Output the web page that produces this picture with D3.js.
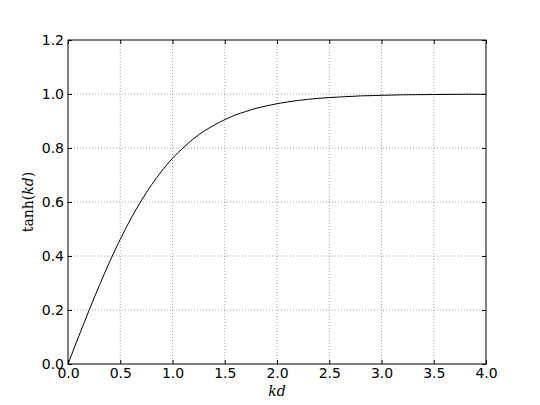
<!DOCTYPE html>
<html><head><meta charset="utf-8">
<script src="https://cdn.jsdelivr.net/npm/d3@7"></script>
<style>body{margin:0;background:#fff}</style>
</head><body>
<script>
const kdValues = [0,0.1,0.2,0.3,0.4,0.5,0.6,0.7,0.8,0.9,1.0,1.1,1.2,1.3,1.4,1.5,1.6,1.7,1.8,1.9,2.0,2.2,2.4,2.6,2.8,3.0,3.2,3.5,3.8,4.0];
const tanhValues = [0,0.0997,0.197,0.291,0.380,0.462,0.537,0.604,0.664,0.716,0.762,0.800,0.834,0.862,0.885,0.905,0.922,0.935,0.947,0.956,0.964,0.976,0.984,0.989,0.993,0.995,0.997,0.998,0.999,0.999];
const xTicks = [0,0.5,1.0,1.5,2.0,2.5,3.0,3.5,4.0];
const yTicks = [0,0.2,0.4,0.6,0.8,1.0,1.2];

const W=540,H=405, L=68,R=486,T=40,B=364;
const svg=d3.select("body").append("svg").attr("width",W).attr("height",H);
const x=d3.scaleLinear().domain([0,4]).range([L,R]);
const y=d3.scaleLinear().domain([0,1.2]).range([B,T]);

// grid
svg.append("g").selectAll("line").data(xTicks.slice(1,-1)).join("line")
  .attr("x1",d=>x(d)).attr("x2",d=>x(d)).attr("y1",T).attr("y2",B)
  .attr("stroke","#000").attr("stroke-width",0.6).attr("stroke-dasharray","1,2").attr("opacity",0.6);
svg.append("g").selectAll("line").data(yTicks.slice(1,-1)).join("line")
  .attr("y1",d=>y(d)).attr("y2",d=>y(d)).attr("x1",L).attr("x2",R)
  .attr("stroke","#000").attr("stroke-width",0.6).attr("stroke-dasharray","1,2").attr("opacity",0.6);

// curve
const pts=kdValues.map((k,i)=>[k,tanhValues[i]]);
svg.append("path").datum(pts)
  .attr("d",d3.line().x(d=>x(d[0])).y(d=>y(d[1])).curve(d3.curveMonotoneX))
  .attr("fill","none").attr("stroke","#000").attr("stroke-width",1);

// axes
const fmt=d3.format(".1f");
const axB=svg.append("g").attr("transform",`translate(0,${B})`)
  .call(d3.axisBottom(x).tickValues(xTicks).tickFormat(fmt).tickSizeInner(-4).tickSizeOuter(0).tickPadding(4));
const axT=svg.append("g").attr("transform",`translate(0,${T})`)
  .call(d3.axisTop(x).tickValues(xTicks).tickFormat("").tickSizeInner(-4).tickSizeOuter(0));
const axL=svg.append("g").attr("transform",`translate(${L},0)`)
  .call(d3.axisLeft(y).tickValues(yTicks).tickFormat(fmt).tickSizeInner(-4).tickSizeOuter(0).tickPadding(4));
const axR=svg.append("g").attr("transform",`translate(${R},0)`)
  .call(d3.axisRight(y).tickValues(yTicks).tickFormat("").tickSizeInner(-4).tickSizeOuter(0));
[axB,axT,axL,axR].forEach(g=>{
  g.select(".domain").remove();
  g.selectAll("line").attr("stroke","#000");
  g.selectAll("text").attr("font-family","DejaVu Sans").attr("font-size",14).attr("fill","#000");
});
svg.append("rect").attr("x",L).attr("y",T).attr("width",R-L).attr("height",B-T)
  .attr("fill","none").attr("stroke","#000").attr("stroke-width",1);

// labels
const xl=svg.append("text").attr("x",(L+R)/2).attr("y",396).attr("text-anchor","middle")
  .attr("font-family","DejaVu Serif").attr("font-size",14);
xl.append("tspan").attr("font-style","italic").text("kd");
const yl=svg.append("text").attr("transform",`translate(33,${(T+B)/2}) rotate(-90)`).attr("text-anchor","middle")
  .attr("font-family","DejaVu Serif").attr("font-size",14);
yl.append("tspan").text("tanh(");
yl.append("tspan").attr("font-style","italic").text("kd");
yl.append("tspan").text(")");
</script>
</body></html>
